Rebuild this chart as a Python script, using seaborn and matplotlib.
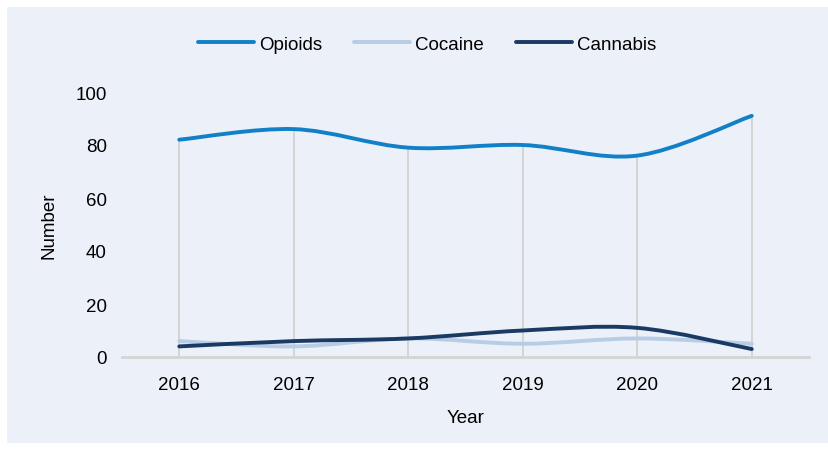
import numpy as np
import seaborn as sns
import matplotlib.pyplot as plt
from matplotlib.path import Path
from matplotlib.patches import PathPatch, Rectangle
from matplotlib.lines import Line2D

years = [2016, 2017, 2018, 2019, 2020, 2021]
opioids = [82, 86, 79, 80, 76, 91]
cocaine = [6, 4, 7, 5, 7, 5]
cannabis = [4, 6, 7, 10, 11, 3]

series_names = ['Opioids', 'Cocaine', 'Cannabis']
series_values = [opioids, cocaine, cannabis]
colors = ['#1180c8', '#b7cde6', '#1a3a64']

sns.set_style('white')
plt.rcParams['font.family'] = ['Liberation Sans', 'DejaVu Sans']
plt.rcParams['text.color'] = 'black'

bg = '#ecf0f8'
fig = plt.figure(figsize=(8.29, 4.56), dpi=100)
fig.patch.set_facecolor('white')
# panel behind the chart
fig.patches.append(Rectangle((7 / 829, 1 - 444 / 456), 822 / 829, 436 / 456,
                             transform=fig.transFigure, facecolor=bg,
                             edgecolor='none', zorder=-1))

ax = fig.add_axes([122 / 829, 1 - 358 / 456, 687 / 829, 265 / 456])
ax.set_facecolor('none')


# smooth line like a spreadsheet "smoothed line" (bezier through the points)
def smooth_path(x, y):
    x = np.asarray(x, float)
    y = np.asarray(y, float)
    n = len(x)
    verts = [(x[0], y[0])]
    codes = [Path.MOVETO]
    for i in range(n - 1):
        p0 = np.array([x[max(i - 1, 0)], y[max(i - 1, 0)]])
        p1 = np.array([x[i], y[i]])
        p2 = np.array([x[i + 1], y[i + 1]])
        p3 = np.array([x[min(i + 2, n - 1)], y[min(i + 2, n - 1)]])
        c1 = p1 + (p2 - p0) / 6
        c2 = p2 - (p3 - p1) / 6
        verts += [tuple(c1), tuple(c2), tuple(p2)]
        codes += [Path.CURVE4] * 3
    return Path(verts, codes)


# drop lines
tops = np.max(np.array(series_values), axis=0)
ax.vlines(years, 0, tops, color='#d2d2d2', lw=1.3, zorder=1)

handles = []
for name, vals, c in zip(series_names, series_values, colors):
    ax.add_patch(PathPatch(smooth_path(years, vals), facecolor='none',
                           edgecolor=c, lw=2.8, capstyle='round', zorder=3))
    handles.append(Line2D([], [], color=c, lw=2.8, solid_capstyle='round'))

ax.set_xlim(2015.5, 2021.5)
ax.set_ylim(0, 100)
ax.set_xticks(years)
ax.set_yticks(range(0, 101, 20))
ax.tick_params(axis='both', length=0, labelsize=13.5, colors='black')
ax.tick_params(axis='x', pad=14)
ax.tick_params(axis='y', pad=11)
sns.despine(ax=ax, left=True)
ax.spines['bottom'].set_color('#d4d4d4')
ax.spines['bottom'].set_linewidth(2)
ax.set_xlabel('Year', fontsize=13.5, labelpad=11, color='black')
ax.set_ylabel('Number', fontsize=13.5, labelpad=13, color='black')

leg = fig.legend(handles, series_names, loc='center', bbox_to_anchor=(427 / 829, 1 - 45 / 456),
                 ncol=3, frameon=False, fontsize=13.5, handlelength=3.0, handletextpad=0.25,
                 columnspacing=1.7)
for t in leg.get_texts():
    t.set_color('black')

fig.savefig('out.png', dpi=100, facecolor='white')
